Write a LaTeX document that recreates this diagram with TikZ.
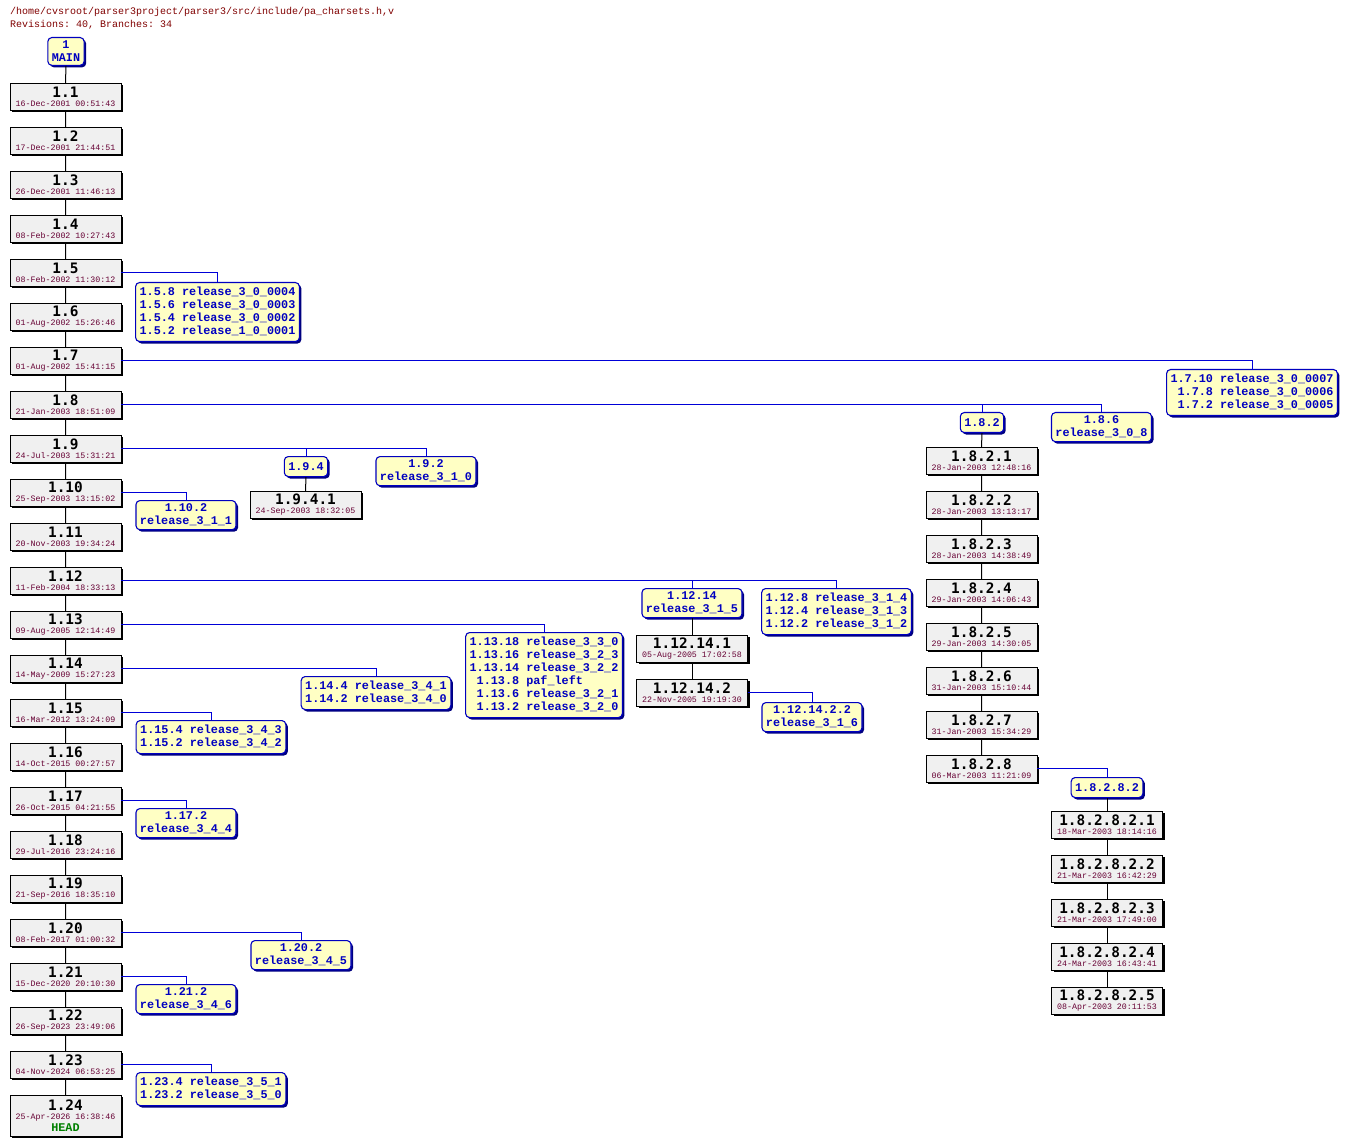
\documentclass[tikz,border=0pt]{standalone}
\usepackage{fontspec}
\setmonofont{Liberation Mono}
\newfontfamily\revfamily{DejaVu Sans Mono}
\usepackage{xcolor}
\usetikzlibrary{shadows}

\definecolor{revgray}{HTML}{F0F0F0}
\definecolor{tagyellow}{HTML}{FFFFC4}
\definecolor{tagblue}{HTML}{0000C0}
\definecolor{branchblue}{HTML}{0000D8}
\definecolor{shadowblue}{HTML}{000080}
\definecolor{datered}{HTML}{660033}
\definecolor{headred}{HTML}{800000}
\definecolor{headgreen}{HTML}{008000}

\newcommand{\tagfont}{\ttfamily\bfseries\fontsize{11.8}{13}\selectfont}
\newcommand{\revlabel}[2]{{\revfamily\bfseries\fontsize{14.4}{12}\selectfont #1}\\[-3pt]{\color{datered}\ttfamily\fontsize{8.3}{9}\selectfont #2}}
\newcommand{\taglist}[1]{\begin{tabular}{@{}r@{ }l@{}}#1\end{tabular}}

\begin{document}
\begin{tikzpicture}[x=1pt, y=-1pt,
  revbox/.style={draw=black, fill=revgray, minimum width=111pt, minimum height=27pt,
    inner sep=0pt, align=center, anchor=north,
    drop shadow={shadow xshift=2pt, shadow yshift=-2pt, fill=black, opacity=1}},
  tagbox/.style={draw=tagblue, line width=1.1pt, fill=tagyellow, rounded corners=4pt,
    inner xsep=4pt, inner ysep=3.5pt, align=center, anchor=north, text=tagblue, font=\tagfont,
    drop shadow={shadow xshift=2pt, shadow yshift=-2pt, fill=shadowblue, opacity=1}},
  onetag/.style={tagbox, minimum height=20pt},
  trunk/.style={draw=black, line width=1pt},
  branchline/.style={draw=branchblue, line width=1pt}]
\useasboundingbox (0,0) rectangle (1347,1147);

% Header
\node[anchor=west, inner sep=0pt, text=headred, font=\ttfamily\fontsize{10}{11}\selectfont] (path) at (10,12) {/home/cvsroot/parser3project/parser3/src/include/pa\_charsets.h,v};
\node[anchor=west, inner sep=0pt, text=headred, font=\ttfamily\fontsize{10}{11}\selectfont] (count) at (10,25) {Revisions: 40, Branches: 34};

% Trunk
\node[tagbox] (main) at (66,37) {1\\MAIN};
\node[revbox] (r1) at (65.5,83) {\revlabel{1.1}{16-Dec-2001 00:51:43}};
\node[revbox] (r2) at (65.5,127) {\revlabel{1.2}{17-Dec-2001 21:44:51}};
\node[revbox] (r3) at (65.5,171) {\revlabel{1.3}{26-Dec-2001 11:46:13}};
\node[revbox] (r4) at (65.5,215) {\revlabel{1.4}{08-Feb-2002 10:27:43}};
\node[revbox] (r5) at (65.5,259) {\revlabel{1.5}{08-Feb-2002 11:30:12}};
\node[revbox] (r6) at (65.5,303) {\revlabel{1.6}{01-Aug-2002 15:26:46}};
\node[revbox] (r7) at (65.5,347) {\revlabel{1.7}{01-Aug-2002 15:41:15}};
\node[revbox] (r8) at (65.5,391) {\revlabel{1.8}{21-Jan-2003 18:51:09}};
\node[revbox] (r9) at (65.5,435) {\revlabel{1.9}{24-Jul-2003 15:31:21}};
\node[revbox] (r10) at (65.5,479) {\revlabel{1.10}{25-Sep-2003 13:15:02}};
\node[revbox] (r11) at (65.5,523) {\revlabel{1.11}{20-Nov-2003 19:34:24}};
\node[revbox] (r12) at (65.5,567) {\revlabel{1.12}{11-Feb-2004 18:33:13}};
\node[revbox] (r13) at (65.5,611) {\revlabel{1.13}{09-Aug-2005 12:14:49}};
\node[revbox] (r14) at (65.5,655) {\revlabel{1.14}{14-May-2009 15:27:23}};
\node[revbox] (r15) at (65.5,699) {\revlabel{1.15}{16-Mar-2012 13:24:09}};
\node[revbox] (r16) at (65.5,743) {\revlabel{1.16}{14-Oct-2015 00:27:57}};
\node[revbox] (r17) at (65.5,787) {\revlabel{1.17}{26-Oct-2015 04:21:55}};
\node[revbox] (r18) at (65.5,831) {\revlabel{1.18}{29-Jul-2016 23:24:16}};
\node[revbox] (r19) at (65.5,875) {\revlabel{1.19}{21-Sep-2016 18:35:10}};
\node[revbox] (r20) at (65.5,919) {\revlabel{1.20}{08-Feb-2017 01:00:32}};
\node[revbox] (r21) at (65.5,963) {\revlabel{1.21}{15-Dec-2020 20:10:30}};
\node[revbox] (r22) at (65.5,1007) {\revlabel{1.22}{26-Sep-2023 23:49:06}};
\node[revbox] (r23) at (65.5,1051) {\revlabel{1.23}{04-Nov-2024 06:53:25}};
\node[revbox, minimum height=41pt] (r24) at (65.5,1095) {\revlabel{1.24}{25-Apr-2026 16:38:46}\\[0pt]{\color{headgreen}\tagfont HEAD}};

\draw[trunk] (main.south) -- (r1.north) (r1.south) -- (r2.north) (r2.south) -- (r3.north)
  (r3.south) -- (r4.north) (r4.south) -- (r5.north) (r5.south) -- (r6.north)
  (r6.south) -- (r7.north) (r7.south) -- (r8.north) (r8.south) -- (r9.north)
  (r9.south) -- (r10.north) (r10.south) -- (r11.north) (r11.south) -- (r12.north)
  (r12.south) -- (r13.north) (r13.south) -- (r14.north) (r14.south) -- (r15.north)
  (r15.south) -- (r16.north) (r16.south) -- (r17.north) (r17.south) -- (r18.north)
  (r18.south) -- (r19.north) (r19.south) -- (r20.north) (r20.south) -- (r21.north)
  (r21.south) -- (r22.north) (r22.south) -- (r23.north) (r23.south) -- (r24.north);

% Tags on the trunk
\node[tagbox] (b5) at (217.5,282) {\taglist{1.5.8 & release\_3\_0\_0004\\ 1.5.6 & release\_3\_0\_0003\\ 1.5.4 & release\_3\_0\_0002\\ 1.5.2 & release\_1\_0\_0001}};
\node[tagbox] (b7) at (1252,369) {\taglist{1.7.10 & release\_3\_0\_0007\\ 1.7.8 & release\_3\_0\_0006\\ 1.7.2 & release\_3\_0\_0005}};
\node[tagbox] (b86) at (1101.5,412) {1.8.6\\release\_3\_0\_8};
\node[tagbox] (b92) at (426,456) {1.9.2\\release\_3\_1\_0};
\node[tagbox] (b102) at (186,500) {1.10.2\\release\_3\_1\_1};
\node[tagbox] (b128) at (836.5,588) {\taglist{1.12.8 & release\_3\_1\_4\\ 1.12.4 & release\_3\_1\_3\\ 1.12.2 & release\_3\_1\_2}};
\node[tagbox] (b13) at (544,632) {\taglist{1.13.18 & release\_3\_3\_0\\ 1.13.16 & release\_3\_2\_3\\ 1.13.14 & release\_3\_2\_2\\ 1.13.8 & paf\_left\\ 1.13.6 & release\_3\_2\_1\\ 1.13.2 & release\_3\_2\_0}};
\node[tagbox] (b14) at (376,676) {\taglist{1.14.4 & release\_3\_4\_1\\ 1.14.2 & release\_3\_4\_0}};
\node[tagbox] (b15) at (211,720) {\taglist{1.15.4 & release\_3\_4\_3\\ 1.15.2 & release\_3\_4\_2}};
\node[tagbox] (b172) at (186,808) {1.17.2\\release\_3\_4\_4};
\node[tagbox] (b202) at (301,940) {1.20.2\\release\_3\_4\_5};
\node[tagbox] (b212) at (186,984) {1.21.2\\release\_3\_4\_6};
\node[tagbox] (b23) at (211,1072) {\taglist{1.23.4 & release\_3\_5\_1\\ 1.23.2 & release\_3\_5\_0}};

% Branch 1.8.2
\node[onetag] (b8-2) at (982,412) {1.8.2};
\node[revbox] (r8-2-1) at (981.5,447) {\revlabel{1.8.2.1}{28-Jan-2003 12:48:16}};
\node[revbox] (r8-2-2) at (981.5,491) {\revlabel{1.8.2.2}{28-Jan-2003 13:13:17}};
\node[revbox] (r8-2-3) at (981.5,535) {\revlabel{1.8.2.3}{28-Jan-2003 14:38:49}};
\node[revbox] (r8-2-4) at (981.5,579) {\revlabel{1.8.2.4}{29-Jan-2003 14:06:43}};
\node[revbox] (r8-2-5) at (981.5,623) {\revlabel{1.8.2.5}{29-Jan-2003 14:30:05}};
\node[revbox] (r8-2-6) at (981.5,667) {\revlabel{1.8.2.6}{31-Jan-2003 15:10:44}};
\node[revbox] (r8-2-7) at (981.5,711) {\revlabel{1.8.2.7}{31-Jan-2003 15:34:29}};
\node[revbox] (r8-2-8) at (981.5,755) {\revlabel{1.8.2.8}{06-Mar-2003 11:21:09}};

% Branch 1.8.2.8.2
\node[onetag] (b8-2-8-2) at (1107,777) {1.8.2.8.2};
\node[revbox] (r8-2-8-2-1) at (1107,811) {\revlabel{1.8.2.8.2.1}{18-Mar-2003 18:14:16}};
\node[revbox] (r8-2-8-2-2) at (1107,855) {\revlabel{1.8.2.8.2.2}{21-Mar-2003 16:42:29}};
\node[revbox] (r8-2-8-2-3) at (1107,899) {\revlabel{1.8.2.8.2.3}{21-Mar-2003 17:49:00}};
\node[revbox] (r8-2-8-2-4) at (1107,943) {\revlabel{1.8.2.8.2.4}{24-Mar-2003 16:43:41}};
\node[revbox] (r8-2-8-2-5) at (1107,987) {\revlabel{1.8.2.8.2.5}{08-Apr-2003 20:11:53}};

% Branch 1.9.4
\node[onetag] (b9-4) at (306,456) {1.9.4};
\node[revbox] (r9-4-1) at (305.5,491) {\revlabel{1.9.4.1}{24-Sep-2003 18:32:05}};

% Branch 1.12.14
\node[tagbox] (b12-14) at (692,588) {1.12.14\\release\_3\_1\_5};
\node[revbox] (r12-14-1) at (692,635) {\revlabel{1.12.14.1}{05-Aug-2005 17:02:58}};
\node[revbox] (r12-14-2) at (692,679) {\revlabel{1.12.14.2}{22-Nov-2005 19:19:30}};
\node[tagbox] (b12-14-2-2) at (812,702) {1.12.14.2.2\\release\_3\_1\_6};

% Branch revisions
\draw[trunk] (b8-2.south) -- (r8-2-1.north) (r8-2-1.south) -- (r8-2-2.north)
  (r8-2-2.south) -- (r8-2-3.north) (r8-2-3.south) -- (r8-2-4.north)
  (r8-2-4.south) -- (r8-2-5.north) (r8-2-5.south) -- (r8-2-6.north)
  (r8-2-6.south) -- (r8-2-7.north) (r8-2-7.south) -- (r8-2-8.north);
\draw[trunk] (b8-2-8-2.south) -- (r8-2-8-2-1.north) (r8-2-8-2-1.south) -- (r8-2-8-2-2.north)
  (r8-2-8-2-2.south) -- (r8-2-8-2-3.north) (r8-2-8-2-3.south) -- (r8-2-8-2-4.north)
  (r8-2-8-2-4.south) -- (r8-2-8-2-5.north);
\draw[trunk] (b9-4.south) -- (r9-4-1.north);
\draw[trunk] (b12-14.south) -- (r12-14-1.north) (r12-14-1.south) -- (r12-14-2.north);

% Branch points
\draw[branchline] (r5.east) -| (b5.north);
\draw[branchline] (r7.east) -| (b7.north);
\draw[branchline] (r8.east) -| (b8-2.north);
\draw[branchline] (r8.east) -| (b86.north);
\draw[branchline] (r9.east) -| (b9-4.north);
\draw[branchline] (r9.east) -| (b92.north);
\draw[branchline] (r10.east) -| (b102.north);
\draw[branchline] (r12.east) -| (b12-14.north);
\draw[branchline] (r12.east) -| (b128.north);
\draw[branchline] (r13.east) -| (b13.north);
\draw[branchline] (r14.east) -| (b14.north);
\draw[branchline] (r15.east) -| (b15.north);
\draw[branchline] (r17.east) -| (b172.north);
\draw[branchline] (r20.east) -| (b202.north);
\draw[branchline] (r21.east) -| (b212.north);
\draw[branchline] (r23.east) -| (b23.north);
\draw[branchline] (r8-2-8.east) -| (b8-2-8-2.north);
\draw[branchline] (r12-14-2.east) -| (b12-14-2-2.north);
\end{tikzpicture}
\end{document}
